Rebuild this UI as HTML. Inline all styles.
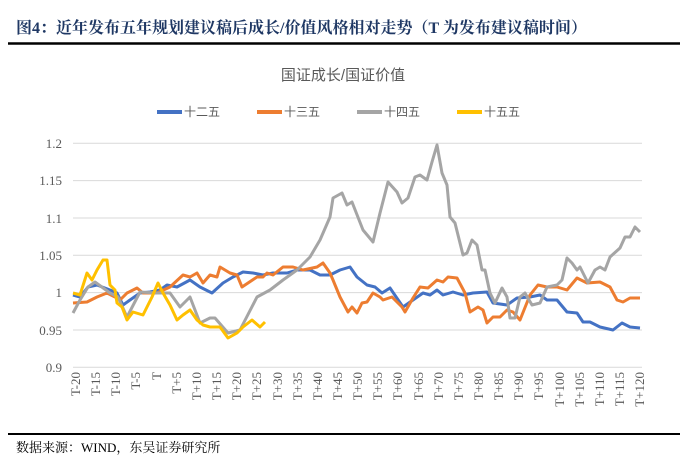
<!DOCTYPE html>
<html><head><meta charset="utf-8"><style>
body{margin:0;background:#fff;width:687px;height:472px;overflow:hidden;font-family:"Liberation Serif","Noto Serif CJK SC",serif}
</style></head><body>
<svg width="687" height="472" xmlns="http://www.w3.org/2000/svg" style="position:absolute;left:0;top:0">
<text x="16" y="33" font-size="16" font-weight="bold" fill="#1f3864" font-family="Liberation Serif,Noto Serif CJK SC,serif">图4：近年发布五年规划建议稿后成长/价值风格相对走势（T 为发布建议稿时间）</text>
<line x1="8" y1="43.5" x2="680" y2="43.5" stroke="#000" stroke-width="2.5"/>
<text x="343" y="80" font-size="15" fill="#595959" text-anchor="middle" font-family="Liberation Sans,Noto Sans CJK SC,sans-serif">国证成长/国证价值</text>
<g font-size="12" fill="#595959" font-family="Liberation Sans,Noto Sans CJK SC,sans-serif">
<line x1="157" y1="112" x2="182" y2="112" stroke="#4472c4" stroke-width="4"/><text x="184" y="116">十二五</text>
<line x1="257" y1="112" x2="282" y2="112" stroke="#ed7d31" stroke-width="4"/><text x="284" y="116">十三五</text>
<line x1="357" y1="112" x2="382" y2="112" stroke="#a5a5a5" stroke-width="4"/><text x="384" y="116">十四五</text>
<line x1="457" y1="112" x2="482" y2="112" stroke="#ffc000" stroke-width="4"/><text x="484" y="116">十五五</text>
</g>
<g stroke="#d9d9d9" stroke-width="1">
<line x1="73" y1="143.3" x2="642" y2="143.3"/><line x1="73" y1="180.6" x2="642" y2="180.6"/><line x1="73" y1="218" x2="642" y2="218"/><line x1="73" y1="255.3" x2="642" y2="255.3"/><line x1="73" y1="292.6" x2="642" y2="292.6"/><line x1="73" y1="330" x2="642" y2="330"/><line x1="73" y1="367.3" x2="642" y2="367.3"/>
</g>
<g font-size="13" fill="#595959" text-anchor="end">
<text x="62" y="148">1.2</text><text x="62" y="185">1.15</text><text x="62" y="223">1.1</text><text x="62" y="260">1.05</text><text x="62" y="297">1</text><text x="62" y="335">0.95</text><text x="62" y="372">0.9</text>
</g>
<g fill="none" stroke-width="3" stroke-linejoin="round">
<polyline stroke="#4472c4" points="73,295 80,297 88,287 97,285 110,290 117,293 123,305 130,300 140,293 150,292 160,290 167,285 177,287 190,280 200,287 212,293 223,283 233,277 243,272 253,273 263,275 273,273 287,273 297,270 310,270 320,275 330,275 340,270 350,267 357,277 367,285 375,287 382,293 390,288 403,307 413,300 423,293 430,295 437,290 443,295 453,292 463,295 473,293 487,292 493,303 507,305 517,298 530,297 540,295 547,300 557,300 567,312 577,313 583,322 590,322 600,327 613,330 622,323 630,327 640,328"/>
<polyline stroke="#ed7d31" points="73,303 87,302 97,297 107,293 115,297 120,300 127,293 137,288 143,293 157,293 170,287 183,275 190,277 197,273 203,283 210,275 217,277 220,267 230,273 237,275 242,287 257,277 263,277 267,273 273,275 283,267 293,267 303,270 317,267 323,263 330,273 333,280 340,297 348,312 352,307 357,313 362,303 367,302 373,293 380,297 383,300 392,297 402,307 405,312 413,298 420,287 428,288 437,280 443,282 448,277 457,278 465,293 470,312 478,307 483,310 487,323 493,317 500,317 507,310 513,312 520,320 530,295 538,285 547,287 557,287 567,290 577,278 587,283 600,282 610,287 617,300 623,302 630,298 640,298"/>
<polyline stroke="#a5a5a5" points="73,313 80,300 88,287 95,282 110,293 118,297 127,317 140,292 157,293 170,293 180,307 190,297 200,323 210,318 215,318 228,333 240,330 257,297 270,290 283,280 297,270 310,257 320,240 330,217 333,198 342,193 347,205 352,202 363,230 373,242 380,213 388,182 397,192 402,203 408,198 415,177 420,175 427,180 432,162 437,145 442,173 447,185 450,217 455,223 463,255 467,253 472,240 477,245 482,270 485,270 490,293 495,303 502,288 507,297 510,318 515,318 520,297 525,293 532,305 540,303 547,287 557,285 562,280 567,258 572,263 577,270 580,267 588,283 595,270 600,267 605,270 610,257 620,248 625,237 630,237 635,227 640,232"/>
<polyline stroke="#ffc000" points="73,293 80,295 87,273 92,280 97,270 103,260 107,260 110,285 115,290 117,303 122,307 127,320 133,312 143,315 152,297 158,283 163,293 170,305 177,320 183,315 190,310 197,320 203,325 210,327 220,327 228,338 237,333 243,327 252,320 260,327 265,322"/>
</g>
<g font-size="13" fill="#595959">
<text transform="translate(80,372) rotate(-90)" text-anchor="end">T-20</text>
<text transform="translate(100,372) rotate(-90)" text-anchor="end">T-15</text>
<text transform="translate(120,372) rotate(-90)" text-anchor="end">T-10</text>
<text transform="translate(140,372) rotate(-90)" text-anchor="end">T-5</text>
<text transform="translate(161,372) rotate(-90)" text-anchor="end">T</text>
<text transform="translate(181,372) rotate(-90)" text-anchor="end">T+5</text>
<text transform="translate(201,372) rotate(-90)" text-anchor="end">T+10</text>
<text transform="translate(221,372) rotate(-90)" text-anchor="end">T+15</text>
<text transform="translate(241,372) rotate(-90)" text-anchor="end">T+20</text>
<text transform="translate(261,372) rotate(-90)" text-anchor="end">T+25</text>
<text transform="translate(282,372) rotate(-90)" text-anchor="end">T+30</text>
<text transform="translate(302,372) rotate(-90)" text-anchor="end">T+35</text>
<text transform="translate(322,372) rotate(-90)" text-anchor="end">T+40</text>
<text transform="translate(342,372) rotate(-90)" text-anchor="end">T+45</text>
<text transform="translate(362,372) rotate(-90)" text-anchor="end">T+50</text>
<text transform="translate(382,372) rotate(-90)" text-anchor="end">T+55</text>
<text transform="translate(402,372) rotate(-90)" text-anchor="end">T+60</text>
<text transform="translate(423,372) rotate(-90)" text-anchor="end">T+65</text>
<text transform="translate(443,372) rotate(-90)" text-anchor="end">T+70</text>
<text transform="translate(463,372) rotate(-90)" text-anchor="end">T+75</text>
<text transform="translate(483,372) rotate(-90)" text-anchor="end">T+80</text>
<text transform="translate(503,372) rotate(-90)" text-anchor="end">T+85</text>
<text transform="translate(523,372) rotate(-90)" text-anchor="end">T+90</text>
<text transform="translate(543,372) rotate(-90)" text-anchor="end">T+95</text>
<text transform="translate(564,372) rotate(-90)" text-anchor="end">T+100</text>
<text transform="translate(584,372) rotate(-90)" text-anchor="end">T+105</text>
<text transform="translate(604,372) rotate(-90)" text-anchor="end">T+110</text>
<text transform="translate(624,372) rotate(-90)" text-anchor="end">T+115</text>
<text transform="translate(644,372) rotate(-90)" text-anchor="end">T+120</text>
</g>
<line x1="8" y1="434" x2="680" y2="434" stroke="#000" stroke-width="2"/>
<text x="16" y="452" font-size="13" fill="#000">数据来源：WIND，东吴证券研究所</text>
</svg>
</body></html>
